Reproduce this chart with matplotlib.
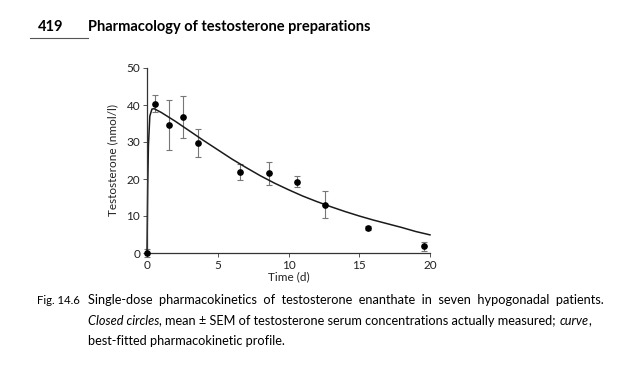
import matplotlib
matplotlib.use('Agg')
import matplotlib.pyplot as plt

plt.rcParams['font.family'] = ['Lato', 'DejaVu Sans']

# measured means +/- SEM
t_obs  = [0.0, 0.54, 1.58, 2.56, 3.6, 6.6, 8.64, 10.6, 12.6, 15.6, 19.6]
c_obs  = [0.0, 40.4, 34.6, 36.8, 29.8, 21.9, 21.5, 19.3, 13.1, 6.8, 1.8]
c_sem  = [1.2, 2.3, 6.7, 5.6, 3.8, 2.1, 3.1, 1.4, 3.7, 0.6, 1.3]

# fitted curve
t_fit = [0.0, 0.05, 0.1, 0.2, 0.35, 0.5, 1, 2, 3, 4, 5, 6, 7, 8, 9, 10,
         11, 12, 13, 14, 15, 16, 17, 18, 19, 20]
c_fit = [0.0, 18.0, 29.0, 37.0, 38.9, 39.0, 38.0, 35.6, 33.0, 30.4, 27.9,
         25.4, 23.1, 20.9, 18.9, 17.1, 15.4, 13.9, 12.5, 11.2, 10.0, 8.9,
         7.9, 6.9, 5.8, 4.9]

fig = plt.figure(figsize=(6.4, 3.72), dpi=100)
ax = fig.add_axes([147/640, 1-253/372, (430-147)/640, (253-68)/372])

ax.plot(t_fit, c_fit, color='#1a1a1a', lw=1.1, clip_on=False, zorder=2)
ax.errorbar(t_obs, c_obs, yerr=c_sem, fmt='none', ecolor='#777777',
            elinewidth=0.8, capsize=2.2, capthick=0.8, clip_on=False, zorder=1)
ax.plot(t_obs, c_obs, 'o', color='black', ms=3.8, clip_on=False, zorder=3)

ax.set_xlim(0, 20)
ax.set_ylim(0, 50)
ax.set_xticks([0, 5, 10, 15, 20])
ax.set_yticks([0, 10, 20, 30, 40, 50])
for s in ['top', 'right']:
    ax.spines[s].set_visible(False)
for s in ['left', 'bottom']:
    ax.spines[s].set_color('#333333')
    ax.spines[s].set_linewidth(0.9)
ax.tick_params(labelsize=8.5, length=3, width=0.7, color='#555555',
               labelcolor='#222222', pad=2)
ax.set_xlabel('Time (d)', fontsize=8.5, color='#222222', labelpad=0)
ax.set_ylabel('Testosterone (nmol/l)', fontsize=8.5, color='#222222', labelpad=6)

# page header
fig.text(38/640, 1-27/372, '419', fontsize=10.5, fontweight='bold', va='center')
fig.text(88/640, 1-27/372, 'Pharmacology of testosterone preparations',
         fontsize=10.5, fontweight='bold', va='center')
fig.add_artist(plt.Line2D([30/640, 88/640], [1-38/372, 1-38/372],
                          color='#555555', lw=0.8))

# caption
cs = 9.2
fig.text(37/640, 1-300/372, 'Fig. 14.6', fontsize=8.2, va='center')
fig.text(88/640, 1-300/372,
         'Single-dose  pharmacokinetics  of  testosterone  enanthate  in  seven  hypogonadal  patients.',
         fontsize=cs, va='center')
parts = [('Closed circles', 'italic'),
         (', mean \u00b1 SEM of testosterone serum concentrations actually measured; ', 'normal'),
         ('curve', 'italic'),
         (',', 'normal')]
fig.text(88/640, 1-321/372, parts[0][0], fontsize=cs, style=parts[0][1],
         va='center')
for txt, st in parts[1:]:
    fig.text(0, 0, txt, fontsize=cs, style=st, va='bottom')
fig.text(88/640, 1-341/372, 'best-fitted pharmacokinetic profile.',
         fontsize=cs, va='center')

# place the chained caption parts after each other
fig.canvas.draw()
r = fig.canvas.get_renderer()
texts = fig.texts[-(len(parts) + 1):-1]
for a, b in zip(texts[:-1], texts[1:]):
    bb = a.get_window_extent(r)
    b.set_position((bb.x1 / fig.bbox.width, bb.y0 / fig.bbox.height))

fig.savefig('out.png', dpi=100)
